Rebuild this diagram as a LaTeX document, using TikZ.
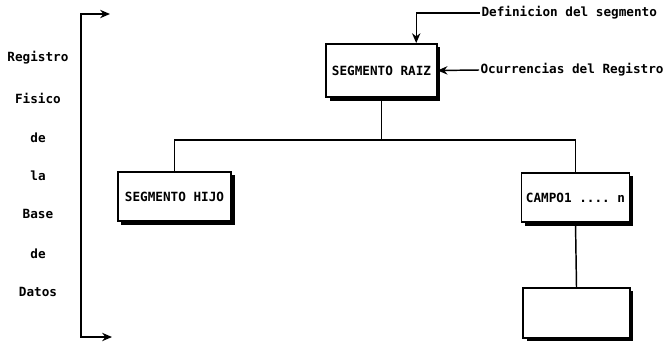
\documentclass[tikz,border=0pt]{standalone}
\usepackage{fontspec}
\setmonofont{DejaVu Sans Mono}
\usetikzlibrary{arrows.meta,shadows}

\begin{document}
\begin{tikzpicture}[
  x=0.75pt, y=-0.75pt,
  >={Stealth[length=2.6mm, width=2.2mm]},
  every node/.style={font=\ttfamily\bfseries\fontsize{9.5}{11}\selectfont},
  segbox/.style={rectangle, draw=black, fill=white, line width=1.1pt, minimum height=37pt,
    drop shadow={shadow xshift=2.5pt, shadow yshift=-2.5pt, fill=black, opacity=1}},
  sidelabel/.style={inner sep=1pt},
  notelabel/.style={inner sep=1pt, anchor=west},
  flow/.style={->, line width=1.1pt},
  link/.style={-, line width=1.1pt},
]
\useasboundingbox (0,0) rectangle (666,343);

% ---- segment boxes ----
\node[segbox, minimum width=83pt, minimum height=40pt] (raiz) at (381.5,70.5) {SEGMENTO RAIZ};
\node[segbox, minimum width=85pt] (hijo) at (174.5,196.5) {SEGMENTO HIJO};
\node[segbox, minimum width=80pt] (campo) at (575.5,197.5) {CAMPO1 .... n};
\node[segbox, minimum width=80pt, minimum height=37.5pt] (vacio) at (576.5,313) {};

% ---- notes on the right ----
\node[notelabel] (defn) at (480,13) {Definicion del segmento};
\node[notelabel] (ocur) at (479,70) {Ocurrencias del Registro};

% ---- side caption (left) ----
\node[sidelabel] (lreg)  at (38,58)  {Registro};
\node[sidelabel] (lfis)  at (38,98)  {Fisico};
\node[sidelabel] (lde)   at (38,138) {de};
\node[sidelabel] (lla)   at (38,176) {la};
\node[sidelabel] (lbase) at (38,214) {Base};
\node[sidelabel] (lde2)  at (38,254) {de};
\node[sidelabel] (ldat)  at (38,292) {Datos};

% ---- bracket ends and tree joints ----
\coordinate (brtop)    at (81,14);
\coordinate (brtopend) at (110,14);
\coordinate (brbot)    at (81,337);
\coordinate (brbotend) at (112,337);
\coordinate (split)  at (381.5,140);
\coordinate (splitl) at (174.5,140);
\coordinate (splitr) at (575.5,140);
\coordinate (dropin) at ([xshift=-16pt]raiz.north east);

% ---- bracket round the whole record ----
\draw[<->, line width=1.1pt] (brtopend) -- (brtop) -- (brbot) -- (brbotend);

% ---- notes -> root ----
\draw[flow] (defn.west) -| (dropin);
\draw[flow] (ocur.west) -- (raiz.east);

% ---- tree ----
\draw[link] (raiz.south) -- (split);
\draw[link] (hijo.north) -- (splitl) -- (splitr) -- (campo.north);
\draw[link] (campo.south) -- (vacio.north);

\end{tikzpicture}
\end{document}
